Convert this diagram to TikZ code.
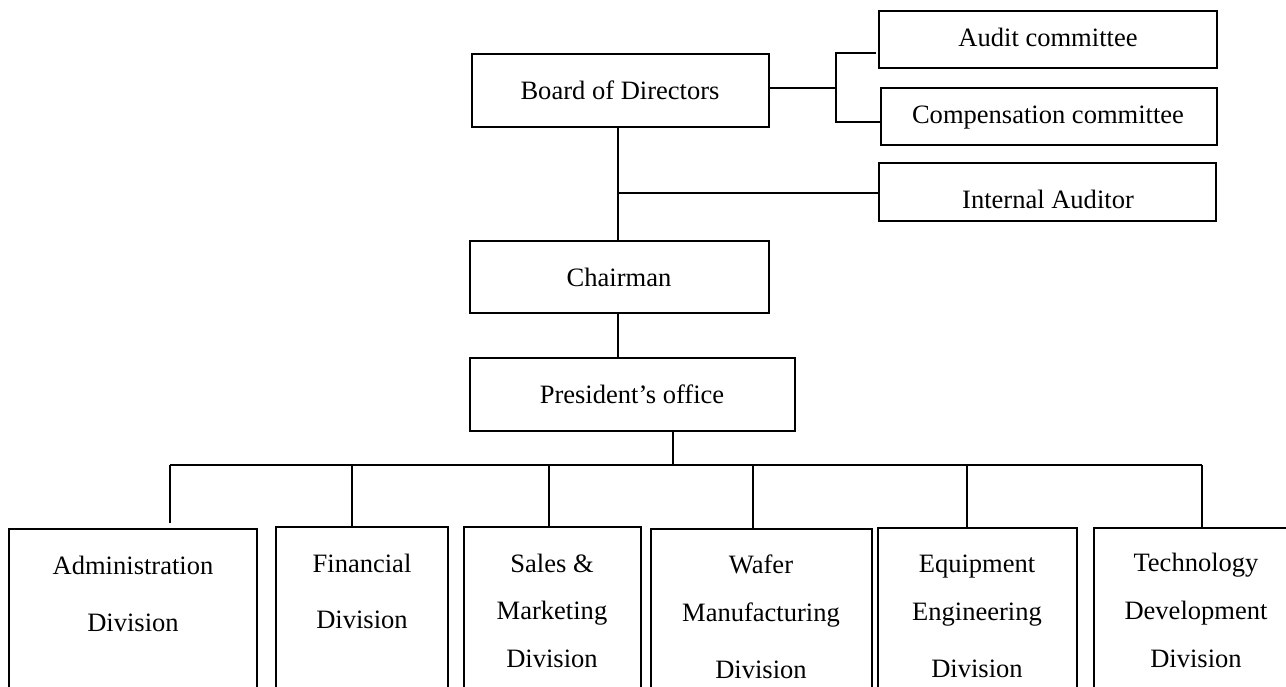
\documentclass[tikz,border=0pt]{standalone}
\usepackage{fontspec}
\setmainfont{Liberation Serif}
\usetikzlibrary{fit}
\begin{document}
\begin{tikzpicture}[x=0.75pt,y=-0.75pt,
  unit/.style={draw, line width=1.15pt, inner sep=0pt, outer sep=0pt},
  lbl/.style={anchor=base, inner sep=0pt, font=\fontsize{19.9}{24}\selectfont},
  link/.style={line width=1.15pt}]
\useasboundingbox (0,0) rectangle (1286,686);
\clip (0,0) rectangle (1286,686);

% upper boxes
\node (bod)   [unit, fit={(472,54) (769,127)}] {};
\node (audit) [unit, fit={(879,11) (1217,68)}] {};
\node (comp)  [unit, fit={(881,88) (1217,145)}] {};
\node (ia)    [unit, fit={(879,163) (1216,221)}] {};
\node (chair) [unit, fit={(470,241) (769,313)}] {};
\node (pres)  [unit, fit={(470,358) (795,431)}] {};

% divisions (their lower edges run past the page)
\node (adm)  [unit, fit={(9,529) (257,720)}] {};
\node (fin)  [unit, fit={(276,527) (448,720)}] {};
\node (sal)  [unit, fit={(464,527) (641,720)}] {};
\node (waf)  [unit, fit={(651,529) (872,720)}] {};
\node (equ)  [unit, fit={(878,528) (1077,720)}] {};
\node (tec)  [unit, fit={(1094,528) (1300,720)}] {};

% labels
\node (tbod)   [lbl] at (620,99)  {Board of Directors};
\node (taudit) [lbl] at (1048,46) {Audit committee};
\node (tcomp)  [lbl] at (1048,123) {Compensation committee};
\node (tia)    [lbl] at (1048,208) {Internal Auditor};
\node (tchair) [lbl] at (619,286) {Chairman};
\node (tpres)  [lbl] at (632,403) {President’s office};

\node (tadm1) [lbl] at (133,574) {Administration};
\node (tadm2) [lbl] at (133,631) {Division};
\node (tfin1) [lbl] at (362,572) {Financial};
\node (tfin2) [lbl] at (362,628) {Division};
\node (tsal1) [lbl] at (552,572) {Sales \&};
\node (tsal2) [lbl] at (552,619) {Marketing};
\node (tsal3) [lbl] at (552,667) {Division};
\node (twaf1) [lbl] at (761,573) {Wafer};
\node (twaf2) [lbl] at (761,621) {Manufacturing};
\node (twaf3) [lbl] at (761,678) {Division};
\node (tequ1) [lbl] at (977,572) {Equipment};
\node (tequ2) [lbl] at (977,620) {Engineering};
\node (tequ3) [lbl] at (977,677) {Division};
\node (ttec1) [lbl] at (1196,571) {Technology};
\node (ttec2) [lbl] at (1196,619) {Development};
\node (ttec3) [lbl] at (1196,667) {Division};

% junction points
\coordinate (jb)    at (836,88);
\coordinate (bt)    at (836,53);
\coordinate (bb)    at (836,122);
\coordinate (trunk) at (618,193);
\coordinate (bus)   at (673,465);
\coordinate (d1) at (170,465);
\coordinate (d2) at (352,465);
\coordinate (d3) at (549,465);
\coordinate (d4) at (753,465);
\coordinate (d5) at (967,465);
\coordinate (d6) at (1202,465);
\coordinate (d1e) at (170,523);

% committees
\draw[link] (jb -| bod.east) -- (jb);
\draw[link] (bt -| audit.west) ++(-3,0) -- (bt) -- (bb) -- (bb -| comp.west);

% main line
\draw[link] (bod.south -| trunk) -- (chair.north -| trunk);
\draw[link] (trunk) -- (trunk -| ia.west);
\draw[link] (chair.south -| trunk) -- (pres.north -| trunk);
\draw[link] (pres.south -| bus) -- (bus);

% division bus
\draw[link] (d1) -- (d6);
\draw[link] (d1) -- (d1e);
\draw[link] (d2) -- (d2 |- fin.north);
\draw[link] (d3) -- (d3 |- sal.north);
\draw[link] (d4) -- (d4 |- waf.north);
\draw[link] (d5) -- (d5 |- equ.north);
\draw[link] (d6) -- (d6 |- tec.north);
\end{tikzpicture}
\end{document}
